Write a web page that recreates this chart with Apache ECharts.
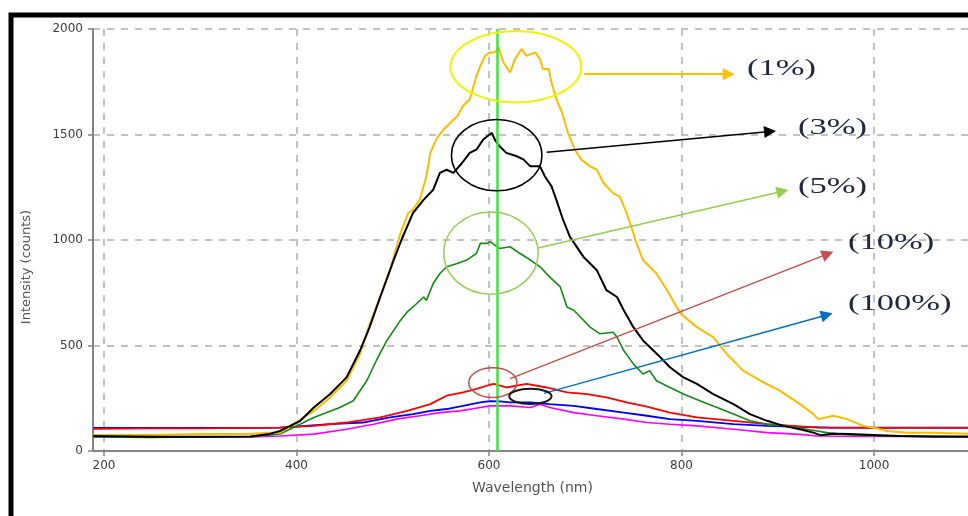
<!DOCTYPE html>
<html>
<head>
<meta charset="utf-8">
<title>Intensity vs wavelength</title>
<script src="https://cdn.jsdelivr.net/npm/echarts/dist/echarts.min.js"></script>
<style>
    html, body { margin: 0; padding: 0; background: #ffffff; }
    #char1 { width: 968px; height: 516px; }
</style>
</head>
<body>
<div id="char1"></div>
<script>
// wavelength (nm) / intensity (counts), one pair of arrays per curve
var wl1 = [189,248,300,352,372,383,418,435,452,466,476,487,497,504,508,516,521,528,535,539,546,553,560,567,573,580,584,587,591,596,601,606,610,615,622,627,634,639,648,653,656,662,665,670,676,682,689,696,705,712,719,729,736,743,750,752,760,774,785,799,816,833,847,864,882,902,923,937,942,958,972,989,999,1013,1034,1062,1100];
var val1 = [76,76,81,81,86,87,190,254,333,460,603,730,857,968,1032,1127,1143,1190,1301,1413,1484,1524,1556,1587,1635,1667,1730,1778,1825,1873,1889,1889,1913,1841,1794,1857,1905,1873,1889,1857,1810,1810,1746,1667,1603,1508,1429,1381,1349,1333,1270,1222,1206,1127,1032,1000,905,841,762,651,587,540,460,381,333,286,222,175,151,167,151,119,111,95,87,87,82];

var wl3 = [189,248,300,352,372,383,404,418,435,452,466,476,487,501,509,521,532,542,549,556,563,572,580,587,594,603,606,611,618,629,636,643,653,658,665,670,677,684,698,712,722,733,740,750,760,778,788,802,816,833,854,871,889,906,923,937,944,958,975,999,1027,1062,1100];
var val3 = [71,67,67,69,81,95,143,206,270,349,476,587,730,905,1000,1127,1190,1238,1318,1333,1318,1365,1413,1429,1476,1508,1476,1444,1413,1397,1381,1349,1349,1302,1254,1190,1095,1016,921,857,762,730,667,587,524,444,397,349,318,270,222,175,143,119,103,87,75,82,80,76,71,68,68];

var wl5 = [189,248,300,352,383,418,445,459,473,483,494,508,515,525,532,535,542,549,556,567,577,587,591,598,601,611,622,632,643,653,663,674,681,688,695,705,715,729,733,740,750,760,767,774,788,802,819,837,854,871,889,909,930,951,975,1010,1062,1100];
var val5 = [67,64,67,67,81,159,206,238,333,429,524,619,659,699,730,714,794,841,873,889,905,937,984,984,992,960,968,937,905,873,825,778,682,667,635,587,556,563,540,476,413,365,381,333,301,270,238,206,175,143,127,119,103,87,76,71,71,68];

var wl10 = [189,248,300,352,383,418,452,487,515,539,556,573,587,601,605,618,639,660,681,702,722,743,764,788,816,854,889,916,941,992,1062,1100];
var val10 = [105,107,107,110,111,119,135,159,190,222,262,278,294,314,318,301,318,301,278,270,254,230,210,182,159,143,127,119,111,110,110,110];

var wl100 = [189,248,300,352,383,435,469,497,521,539,556,573,591,601,611,622,643,663,688,712,740,764,788,816,854,889,923,958,1027,1100];
var val100 = [110,110,110,110,111,127,135,159,175,190,199,214,230,236,235,230,230,222,214,199,182,167,151,143,127,119,114,111,111,111];

var wlPink = [189,248,300,352,383,418,452,480,504,528,549,570,591,601,622,643,653,663,688,712,740,764,788,816,854,889,923,941,992,1100];
var valPink = [67,67,67,67,71,80,103,127,151,167,182,190,206,214,214,206,222,206,182,167,151,135,127,119,103,87,79,71,69,69];

// annotations, in data units (nm, counts)
var peakLine = 609;
var tagNames = ["(1%)", "(3%)", "(5%)", "(10%)", "(100%)"];
var tagX = [868, 921, 921, 973, 973];
var tagY = [1810, 1533, 1252, 986, 695];
var arrowFrom = [[699, 1786], [660, 1416], [651, 962], [622, 343], [657, 273]];
var arrowTo = [[849, 1786], [892, 1514], [905, 1231], [952, 934], [951, 645]];
var ringX = [628, 608, 602, 604, 643];
var ringY = [1821, 1402, 938, 324, 259];
var ringRx = [68, 47, 49, 25, 22];
var ringRy = [169, 169, 195, 70, 36];

window.onload = function () {
    char1();
};

function pairs(xs, ys) {
    var out = [];
    for (var i = 0; i < xs.length; i++) {
        out.push([xs[i], ys[i]]);
    }
    return out;
}

function arrow(i, color, width) {
    return {
        silent: true,
        symbol: ["none", "triangle"],
        symbolSize: 12,
        label: { show: false },
        lineStyle: { color: color, width: width, type: "solid" },
        data: [[{ coord: arrowFrom[i] }, { coord: arrowTo[i] }]],
    };
}

function curve(name, xs, ys, color, width, markLine) {
    var s = {
        name: name,
        type: "line",
        data: pairs(xs, ys),
        showSymbol: false,
        symbol: "none",
        smooth: false,
        lineStyle: { color: color, width: width },
        itemStyle: { color: color },
        z: 3,
    };
    if (markLine) s.markLine = markLine;
    return s;
}

function plain(v) {
    return String(v);
}

function char1() {
    var myChart = echarts.init(document.getElementById("char1"));

    var gridLine = { show: true, lineStyle: { color: "#c2c2c2", width: 2, type: [7, 7] } };
    var axisGray = "#858585";
    var labelStyle = { color: "#3c3c3c", fontSize: 12, fontFamily: "DejaVu Sans", formatter: plain };

    var peakMark = {
        silent: true,
        symbol: ["none", "none"],
        label: { show: false },
        lineStyle: { color: "#3fe23f", width: 2.5, type: "solid" },
        data: [{ xAxis: peakLine }],
    };

    var option = {
        animation: false,
        backgroundColor: "#ffffff",
        grid: { left: 93, right: -4, top: 29, bottom: 65, outerBoundsMode: "none" },
        xAxis: {
            type: "value",
            min: 188.6,
            max: 1101.8,
            name: "Wavelength (nm)",
            nameLocation: "middle",
            nameGap: 30,
            nameTextStyle: { color: "#555555", fontSize: 14, fontFamily: "DejaVu Sans" },
            axisLine: { show: true, onZero: false, lineStyle: { color: axisGray, width: 2 } },
            axisTick: { show: true, inside: false, length: 5, lineStyle: { color: axisGray, width: 1.5 } },
            axisLabel: Object.assign({ margin: 9, showMinLabel: false, showMaxLabel: false }, labelStyle),
            splitLine: gridLine,
        },
        yAxis: {
            type: "value",
            min: 0,
            max: 2000,
            interval: 500,
            axisLine: { show: true, onZero: false, lineStyle: { color: axisGray, width: 2 } },
            axisTick: { show: true, inside: false, length: 5, lineStyle: { color: axisGray, width: 1.5 } },
            axisLabel: Object.assign({ margin: 10 }, labelStyle),
            splitLine: gridLine,
        },
        series: [
            curve("100% (pink)", wlPink, valPink, "#ff00ff", 1.6, peakMark),
            curve("100%", wl100, val100, "#0000ff", 1.8, arrow(4, "#0070c0", 1.5)),
            curve("10%", wl10, val10, "#ff0000", 1.8, arrow(3, "#c0504d", 1.5)),
            curve("5%", wl5, val5, "#138a13", 1.6, arrow(2, "#92d050", 1.5)),
            curve("1%", wl1, val1, "#ffbb00", 2, arrow(0, "#ffc000", 2)),
            curve("3%", wl3, val3, "#000000", 2, arrow(1, "#000000", 1.5)),
        ],
    };

    myChart.setOption(option);
    drawNotes(myChart);
    window.addEventListener("resize", function () {
        myChart.resize();
        drawNotes(myChart);
    });
}

function drawNotes(myChart) {
    var ringColors = ["#f2f200", "#000000", "#92d050", "#c0504d", "#1a1a1a"];
    var ringWidths = [2, 1.5, 1.5, 1.5, 2];
    var items = [];

    for (var i = 0; i < ringX.length; i++) {
        var c = myChart.convertToPixel({ gridIndex: 0 }, [ringX[i], ringY[i]]);
        var r = myChart.convertToPixel({ gridIndex: 0 }, [ringX[i] + ringRx[i], ringY[i] + ringRy[i]]);
        items.push({
            type: "ellipse",
            silent: true,
            z: 50,
            shape: { cx: c[0], cy: c[1], rx: r[0] - c[0], ry: c[1] - r[1] },
            style: { fill: "none", stroke: ringColors[i], lineWidth: ringWidths[i] },
        });
    }

    for (var j = 0; j < tagNames.length; j++) {
        var p = myChart.convertToPixel({ gridIndex: 0 }, [tagX[j], tagY[j]]);
        items.push({
            type: "text",
            silent: true,
            z: 60,
            x: p[0],
            y: p[1],
            scaleX: 1.5,
            style: {
                text: tagNames[j],
                font: '23px "Liberation Serif"',
                fill: "#1f2742",
                align: "left",
                verticalAlign: "middle",
            },
        });
    }

    items.push({
        type: "text",
        silent: true,
        x: 27,
        y: 267,
        rotation: Math.PI / 2,
        style: {
            text: "Intensity (counts)",
            font: '13px "DejaVu Sans"',
            fill: "#555555",
            align: "center",
            verticalAlign: "middle",
        },
    });

    // outer black frame of the figure
    items.push({
        type: "rect",
        silent: true,
        z: 100,
        shape: { x: 11, y: 15, width: 1100, height: 700 },
        style: { fill: "none", stroke: "#000000", lineWidth: 5 },
    });

    myChart.setOption({ graphic: items });
}
</script>
</body>
</html>
